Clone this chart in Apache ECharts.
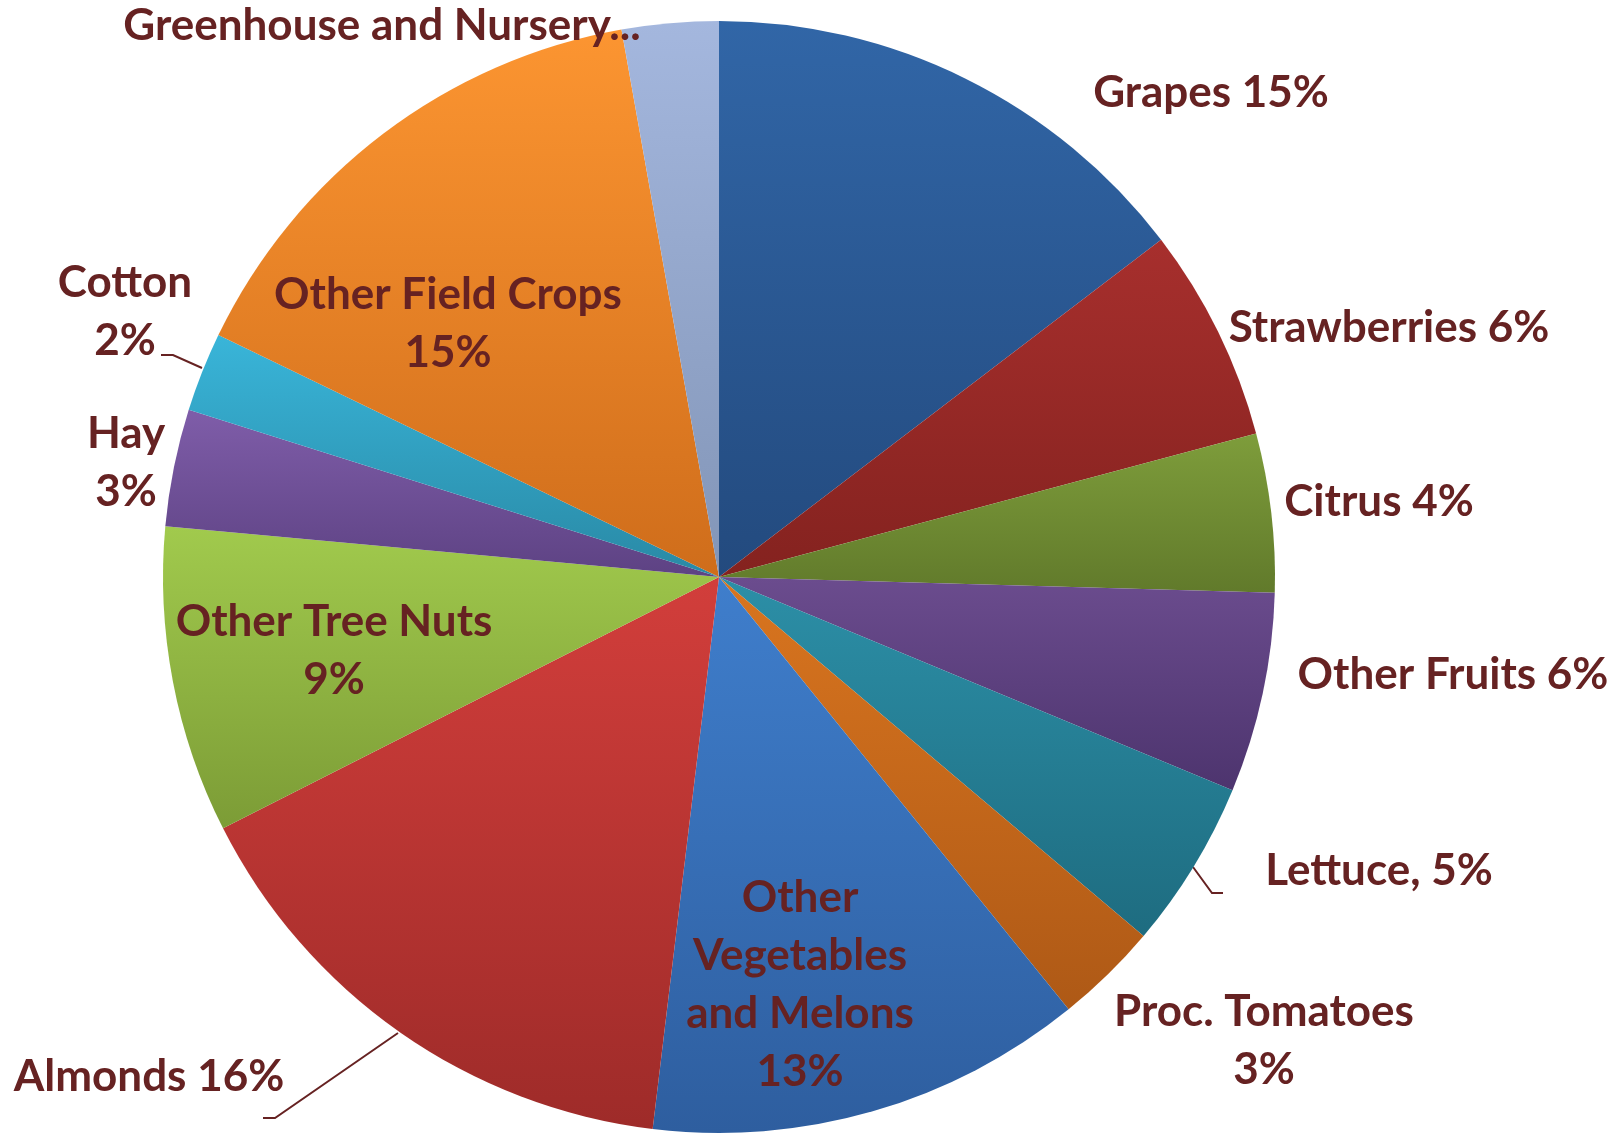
<!DOCTYPE html>
<html lang="en">
<head>
    <meta charset="UTF-8">
    <title>Crop value share</title>
    <script src="https://cdn.jsdelivr.net/npm/echarts@6.0.0/dist/echarts.min.js"></script>
    <style>
        html, body { margin: 0; padding: 0; background: #fff; }
        #chart { width: 1616px; height: 1134px; }
    </style>
</head>
<body>
<div id="chart"></div>
<script>
    // slices, clockwise from 12 o'clock
    var categories = ['Grapes', 'Strawberries', 'Citrus', 'Other Fruits', 'Lettuce', 'Proc. Tomatoes',
        'Other Vegetables and Melons', 'Almonds', 'Other Tree Nuts', 'Hay', 'Cotton',
        'Other Field Crops', 'Greenhouse and Nursery'];
    var shares = [14.6, 6.2, 4.6, 5.8, 4.9, 3.0, 12.7, 15.6, 8.9, 3.4, 2.3, 15.0, 2.8];
    var labelTexts = ['Grapes 15%', 'Strawberries 6%', 'Citrus 4%', 'Other Fruits 6%', 'Lettuce, 5%',
        'Proc. Tomatoes\n3%', 'Other\nVegetables\nand Melons\n13%', 'Almonds 16%', 'Other Tree Nuts\n9%',
        'Hay\n3%', 'Cotton\n2%', 'Other Field Crops\n15%', 'Greenhouse and Nursery...'];

    // top / bottom colour of each slice gradient
    var topColors = ['#3166a7', '#a72f2d', '#7e9d3b', '#6b4c8e', '#2c8fa7', '#d9751f', '#3f7ecc',
        '#d23e3b', '#a1ca4d', '#7f5da9', '#39b5d9', '#fc9531', '#a4b7de'];
    var bottomColors = ['#234a7e', '#84221f', '#617a2b', '#4d346e', '#1e6c80', '#ae5916', '#2e5e9f',
        '#9e2b29', '#7c9c36', '#5d4283', '#2989a5', '#cf6d1b', '#8295b7'];

    // label placement (pixel centre of each label block) and leader lines
    var labelPos = {
        'Grapes': [1211, 93],
        'Strawberries': [1389, 328],
        'Citrus': [1379, 502],
        'Other Fruits': [1453, 675],
        'Lettuce': [1379, 871],
        'Proc. Tomatoes': [1264, 1041],
        'Other Vegetables and Melons': [800, 985],
        'Almonds': [149, 1077],
        'Other Tree Nuts': [334, 651],
        'Hay': [126, 463],
        'Cotton': [125, 312],
        'Other Field Crops': [448, 324],
        'Greenhouse and Nursery': [382, 26]
    };
    var leaderLines = {
        'Cotton': [[202, 368], [173, 355], [161, 355]],
        'Lettuce': [[1193, 867], [1212, 893], [1223, 893]],
        'Almonds': [[398, 1033], [275, 1118], [263, 1118]]
    };

    var textColor = '#662222';

    var pieData = categories.map(function (name, i) {
        return {
            name: name,
            value: shares[i],
            itemStyle: {
                color: {
                    type: 'linear', x: 0, y: 0, x2: 0, y2: 1,
                    colorStops: [
                        {offset: 0, color: topColors[i]},
                        {offset: 1, color: bottomColors[i]}
                    ]
                }
            },
            label: {formatter: labelTexts[i]},
            labelLine: {show: !!leaderLines[name]}
        };
    });

    var chart = echarts.init(document.getElementById('chart'));
    chart.setOption({
        animation: false,
        series: [{
            type: 'pie',
            center: [719, 577],
            radius: 556,
            startAngle: 90,
            clockwise: true,
            avoidLabelOverlap: false,
            data: pieData,
            label: {
                show: true,
                position: 'outside',
                color: textColor,
                fontFamily: 'Lato',
                fontWeight: 'bold',
                fontSize: 44,
                lineHeight: 58,
                align: 'center'
            },
            labelLine: {
                show: false,
                lineStyle: {color: textColor, width: 2}
            },
            labelLayout: function (params) {
                var name = categories[params.dataIndex];
                var p = labelPos[name];
                var out = {x: p[0], y: p[1], align: 'center', verticalAlign: 'middle'};
                if (leaderLines[name]) {
                    out.labelLinePoints = leaderLines[name];
                }
                return out;
            }
        }]
    });
</script>
</body>
</html>
